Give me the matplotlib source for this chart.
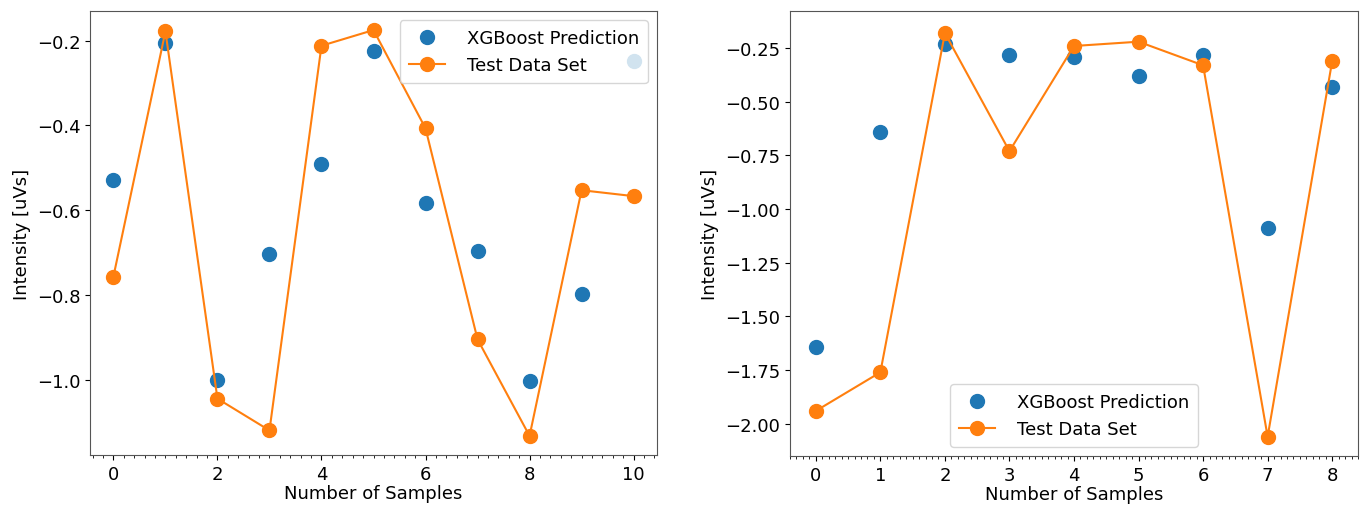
import matplotlib.pyplot as plt
from matplotlib.ticker import MultipleLocator

# left panel
left_x = list(range(11))
left_pred = [-0.530, -0.205, -1.000, -0.703, -0.492, -0.225, -0.583, -0.697, -1.003, -0.797, -0.249]
left_test = [-0.757, -0.178, -1.045, -1.120, -0.212, -0.175, -0.407, -0.905, -1.133, -0.553, -0.567]

# right panel
right_x = list(range(9))
right_pred = [-1.64, -0.64, -0.23, -0.28, -0.29, -0.38, -0.28, -1.09, -0.43]
right_test = [-1.94, -1.76, -0.18, -0.73, -0.24, -0.22, -0.33, -2.06, -0.31]

plt.rcParams['font.size'] = 13

fig = plt.figure(figsize=(13.7, 5.06), dpi=100)
ax1 = fig.add_axes([90/1370, 50/506, 567/1370, 444/506])
ax2 = fig.add_axes([790/1370, 49/506, 568/1370, 445/506])

ax1.plot(left_x, left_pred, 'o', color='#1f77b4', markersize=10, label='XGBoost Prediction')
ax1.plot(left_x, left_test, '-o', color='#ff7f0e', markersize=10, linewidth=1.5, label='Test Data Set')
ax1.set_ylim(-1.178, -0.13)
ax1.set_xlim(-0.45, 10.45)
ax1.xaxis.set_minor_locator(MultipleLocator(0.2))
ax1.set_xlabel('Number of Samples', labelpad=1)
ax1.set_ylabel('Intensity [uVs]')
ax1.legend(loc='upper right', fontsize=13, handletextpad=1.2, borderpad=0.5)

ax2.plot(right_x, right_pred, 'o', color='#1f77b4', markersize=10, label='XGBoost Prediction')
ax2.plot(right_x, right_test, '-o', color='#ff7f0e', markersize=10, linewidth=1.5, label='Test Data Set')
ax2.set_ylim(-2.15, -0.077)
ax2.set_xlim(-0.4, 8.4)
ax2.xaxis.set_minor_locator(MultipleLocator(0.1))
ax2.set_xlabel('Number of Samples', labelpad=1)
ax2.set_ylabel('Intensity [uVs]')
ax2.legend(loc='lower center', fontsize=13, handletextpad=1.2, borderpad=0.5)

for ax in (ax1, ax2):
    ax.tick_params(which='major', labelsize=13)
    ax.tick_params(which='minor', length=2)
    for s in ax.spines.values():
        s.set_color('#555555')

plt.savefig('out.png')
